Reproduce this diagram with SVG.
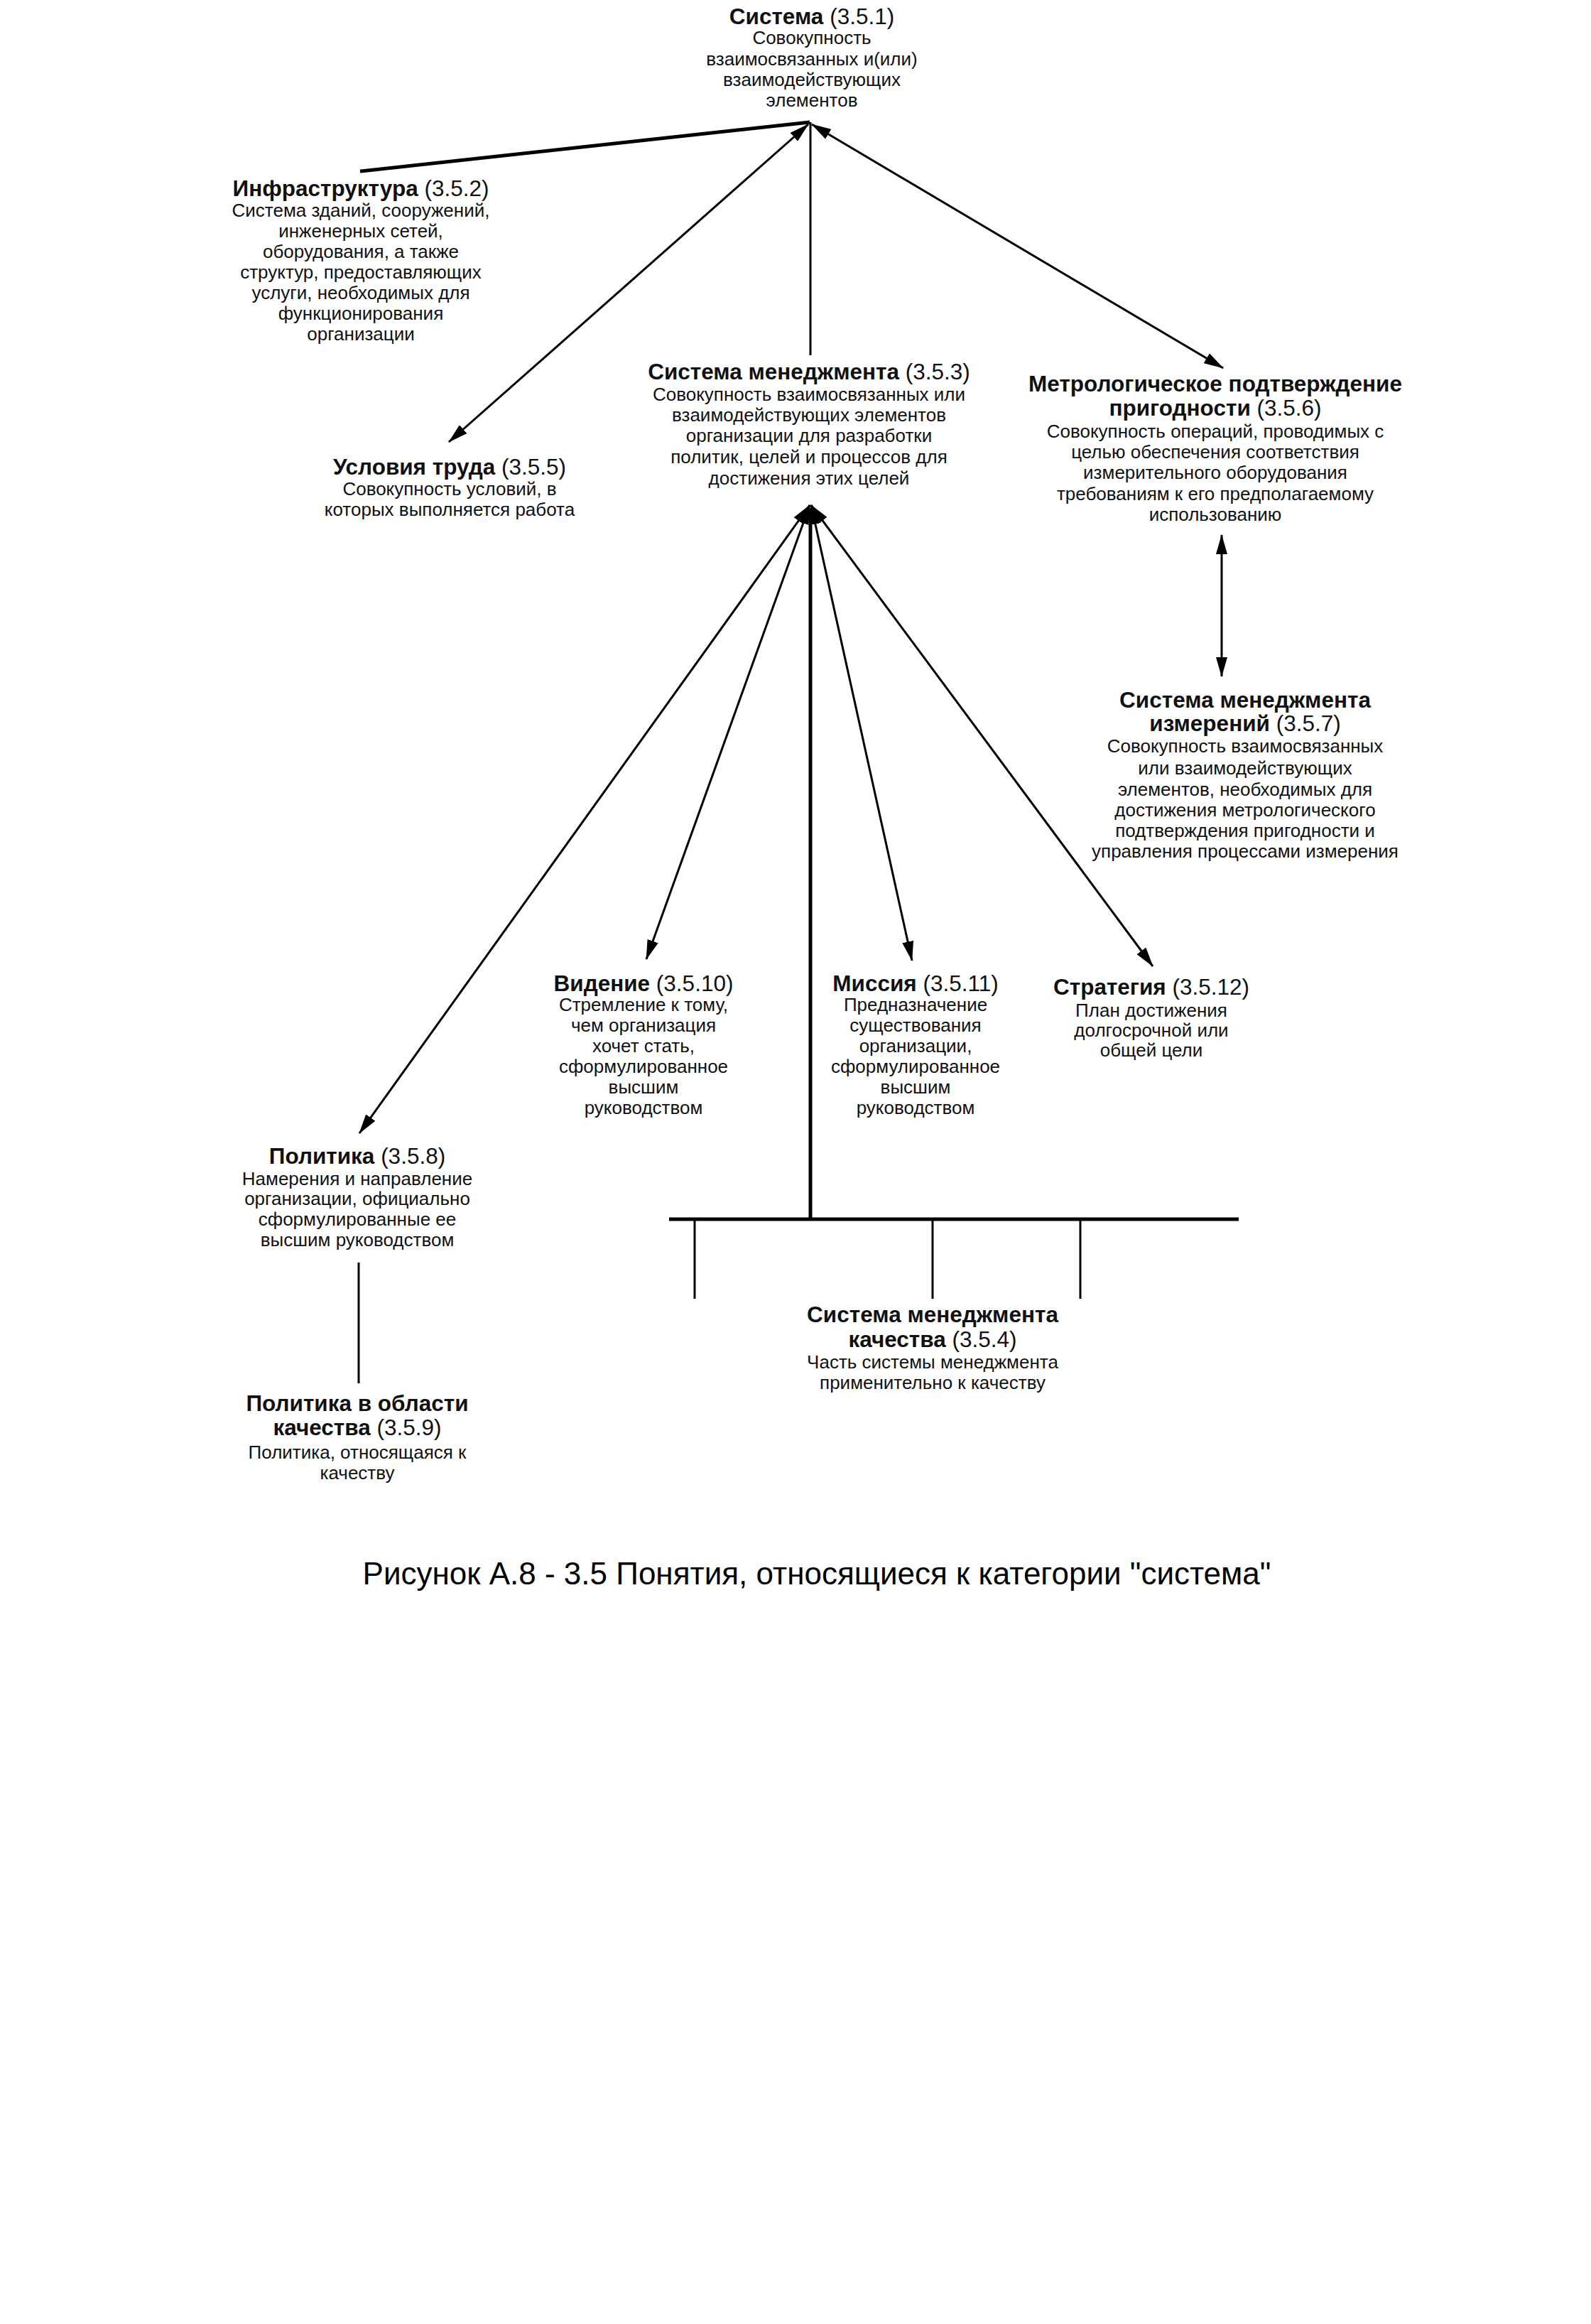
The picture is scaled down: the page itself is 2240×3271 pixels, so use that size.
<svg xmlns="http://www.w3.org/2000/svg" width="2240" height="3271" viewBox="0 0 2240 3271">
<style>
text{font-family:"Liberation Sans",Arial,sans-serif;fill:#111;text-anchor:middle}
.t{font-size:31.5px;font-weight:bold}
.n{font-weight:normal}
.b{font-size:26px}
.cap{font-size:44px;fill:#000}
.l{stroke:#000;stroke-width:3;fill:none}
.lt{stroke:#000;stroke-width:5;fill:none}
.a{marker-start:url(#ah);marker-end:url(#ah)}
</style>
<defs>
<marker id="ah" viewBox="0 0 28 16" refX="27" refY="8" markerWidth="28" markerHeight="16" markerUnits="userSpaceOnUse" orient="auto-start-reverse">
<path d="M0,0 L28,8 L0,16 z" fill="#000"/>
</marker>
</defs>
<rect width="2240" height="3271" fill="#fff"/>
<g id="connectors">
<line class="lt" x1="507" y1="241" x2="1140" y2="172"/>
<line class="l a" x1="632" y1="622" x2="1138" y2="175"/>
<line class="l a" x1="1722" y1="518" x2="1143" y2="175"/>
<line class="l" x1="1141" y1="172" x2="1141" y2="500"/>
<line class="l a" x1="1720" y1="753" x2="1720" y2="952"/>
<line class="l a" x1="1140" y1="711" x2="506" y2="1595"/>
<line class="l a" x1="1140" y1="711" x2="910" y2="1350"/>
<line class="l a" x1="1142" y1="711" x2="1284" y2="1352"/>
<line class="l a" x1="1142" y1="711" x2="1623" y2="1360"/>
<line class="lt" x1="1141" y1="715" x2="1141" y2="1716"/>
<line class="lt" x1="942" y1="1716" x2="1744" y2="1716"/>
<line class="l" x1="978" y1="1716" x2="978" y2="1828"/>
<line class="l" x1="1313" y1="1716" x2="1313" y2="1828"/>
<line class="l" x1="1521" y1="1716" x2="1521" y2="1828"/>
<line class="l" x1="505" y1="1777" x2="505" y2="1947"/>
</g>
<g id="n351">
<text class="t" x="1143" y="34">Система <tspan class="n">(3.5.1)</tspan></text>
<text class="b" x="1143" y="62">Совокупность</text>
<text class="b" x="1143" y="92">взаимосвязанных и(или)</text>
<text class="b" x="1143" y="121">взаимодействующих</text>
<text class="b" x="1143" y="150">элементов</text>
</g>
<g id="n352">
<text class="t" x="508" y="276">Инфраструктура <tspan class="n">(3.5.2)</tspan></text>
<text class="b" x="508" y="305">Система зданий, сооружений,</text>
<text class="b" x="508" y="334">инженерных сетей,</text>
<text class="b" x="508" y="363">оборудования, а также</text>
<text class="b" x="508" y="392">структур, предоставляющих</text>
<text class="b" x="508" y="421">услуги, необходимых для</text>
<text class="b" x="508" y="450">функционирования</text>
<text class="b" x="508" y="479">организации</text>
</g>
<g id="n353">
<text class="t" x="1139" y="534">Система менеджмента <tspan class="n">(3.5.3)</tspan></text>
<text class="b" x="1139" y="564">Совокупность взаимосвязанных или</text>
<text class="b" x="1139" y="593">взаимодействующих элементов</text>
<text class="b" x="1139" y="622">организации для разработки</text>
<text class="b" x="1139" y="652">политик, целей и процессов для</text>
<text class="b" x="1139" y="682">достижения этих целей</text>
</g>
<g id="n356">
<text class="t" x="1711" y="551">Метрологическое подтверждение</text>
<text class="t" x="1711" y="585">пригодности <tspan class="n">(3.5.6)</tspan></text>
<text class="b" x="1711" y="616">Совокупность операций, проводимых с</text>
<text class="b" x="1711" y="645">целью обеспечения соответствия</text>
<text class="b" x="1711" y="674">измерительного оборудования</text>
<text class="b" x="1711" y="704">требованиям к его предполагаемому</text>
<text class="b" x="1711" y="733">использованию</text>
</g>
<g id="n355">
<text class="t" x="633" y="668">Условия труда <tspan class="n">(3.5.5)</tspan></text>
<text class="b" x="633" y="697">Совокупность условий, в</text>
<text class="b" x="633" y="726">которых выполняется работа</text>
</g>
<g id="n357">
<text class="t" x="1753" y="996">Система менеджмента</text>
<text class="t" x="1753" y="1029">измерений <tspan class="n">(3.5.7)</tspan></text>
<text class="b" x="1753" y="1059">Совокупность взаимосвязанных</text>
<text class="b" x="1753" y="1090">или взаимодействующих</text>
<text class="b" x="1753" y="1120">элементов, необходимых для</text>
<text class="b" x="1753" y="1149">достижения метрологического</text>
<text class="b" x="1753" y="1178">подтверждения пригодности и</text>
<text class="b" x="1753" y="1207">управления процессами измерения</text>
</g>
<g id="n3510">
<text class="t" x="906" y="1395">Видение <tspan class="n">(3.5.10)</tspan></text>
<text class="b" x="906" y="1423">Стремление к тому,</text>
<text class="b" x="906" y="1452">чем организация</text>
<text class="b" x="906" y="1481">хочет стать,</text>
<text class="b" x="906" y="1510">сформулированное</text>
<text class="b" x="906" y="1539">высшим</text>
<text class="b" x="906" y="1568">руководством</text>
</g>
<g id="n3511">
<text class="t" x="1289" y="1395">Миссия <tspan class="n">(3.5.11)</tspan></text>
<text class="b" x="1289" y="1423">Предназначение</text>
<text class="b" x="1289" y="1452">существования</text>
<text class="b" x="1289" y="1481">организации,</text>
<text class="b" x="1289" y="1510">сформулированное</text>
<text class="b" x="1289" y="1539">высшим</text>
<text class="b" x="1289" y="1568">руководством</text>
</g>
<g id="n3512">
<text class="t" x="1621" y="1400">Стратегия <tspan class="n">(3.5.12)</tspan></text>
<text class="b" x="1621" y="1431">План достижения</text>
<text class="b" x="1621" y="1459">долгосрочной или</text>
<text class="b" x="1621" y="1487">общей цели</text>
</g>
<g id="n358">
<text class="t" x="503" y="1638">Политика <tspan class="n">(3.5.8)</tspan></text>
<text class="b" x="503" y="1668">Намерения и направление</text>
<text class="b" x="503" y="1696">организации, официально</text>
<text class="b" x="503" y="1725">сформулированные ее</text>
<text class="b" x="503" y="1754">высшим руководством</text>
</g>
<g id="n354">
<text class="t" x="1313" y="1861">Система менеджмента</text>
<text class="t" x="1313" y="1896">качества <tspan class="n">(3.5.4)</tspan></text>
<text class="b" x="1313" y="1926">Часть системы менеджмента</text>
<text class="b" x="1313" y="1955">применительно к качеству</text>
</g>
<g id="n359">
<text class="t" x="503" y="1986">Политика в области</text>
<text class="t" x="503" y="2020">качества <tspan class="n">(3.5.9)</tspan></text>
<text class="b" x="503" y="2053">Политика, относящаяся к</text>
<text class="b" x="503" y="2082">качеству</text>
</g>
<g id="caption">
<text class="cap" x="1150" y="2230">Рисунок А.8 - 3.5 Понятия, относящиеся к категории "система"</text>
</g>
</svg>
